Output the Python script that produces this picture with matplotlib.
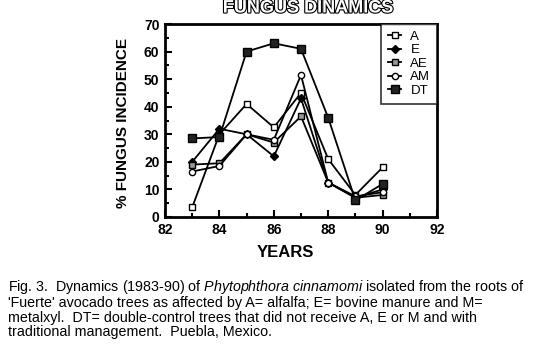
import matplotlib
matplotlib.use("Agg")
import matplotlib.pyplot as plt
import matplotlib.patheffects as pe
from matplotlib.ticker import MultipleLocator

years = [83, 84, 85, 86, 87, 88, 89, 90]
A = [3.5, 30, 41, 32.5, 45, 21, 8, 18]
E = [20, 32, 30, 22, 43, 12.5, 7, 10]
AE = [19, 19.5, 30, 27, 36.5, 12.5, 7, 8]
AM = [16.5, 18.5, 30, 28, 51.5, 12.5, 7.5, 9]
DT = [28.5, 29, 60, 63, 61, 36, 6, 12]

plt.rcParams['font.family'] = ['Liberation Sans', 'DejaVu Sans']
plt.rcParams['mathtext.fontset'] = 'custom'
plt.rcParams['mathtext.it'] = 'Liberation Sans:italic'
plt.rcParams['mathtext.rm'] = 'Liberation Sans'

W, H = 543, 361
fig = plt.figure(figsize=(W/100, H/100), dpi=100)
L, R, T, B = 165, 437, 24, 217
ax = fig.add_axes([L/W, 1-B/H, (R-L)/W, (B-T)/H])

lw = 1.3
ax.plot(years, A, color='black', lw=lw, marker='s', ms=5, mfc='white', mec='black', mew=1.0, label='A')
ax.plot(years, E, color='black', lw=lw, marker='D', ms=4, mfc='black', mec='black', label='E')
ax.plot(years, AE, color='black', lw=lw, marker='s', ms=5, mfc='#999999', mec='black', mew=1.0, label='AE')
ax.plot(years, AM, color='black', lw=lw, marker='o', ms=4.5, mfc='white', mec='black', mew=1.0, label='AM')
ax.plot(years, DT, color='black', lw=lw, marker='s', ms=5.5, mfc='#222222', mec='black', label='DT')

ax.set_xlim(82, 92)
ax.set_ylim(0, 70)
ax.xaxis.set_major_locator(MultipleLocator(2))
ax.xaxis.set_minor_locator(MultipleLocator(1))
ax.yaxis.set_major_locator(MultipleLocator(10))
ax.yaxis.set_minor_locator(MultipleLocator(5))
ax.tick_params(which='both', direction='in', width=1.5)
ax.tick_params(which='major', length=5, labelsize=10, pad=4)
ax.tick_params(which='minor', length=3)
for lab in ax.get_xticklabels() + ax.get_yticklabels():
    lab.set_fontweight('bold')
for s in ax.spines.values():
    s.set_linewidth(2)

ax.set_xlabel('YEARS', fontsize=12, fontweight='bold')
ax.xaxis.set_label_coords((285-L)/(R-L), -(245-B)/(B-T), transform=ax.transAxes)
ax.set_ylabel('% FUNGUS INCIDENCE', fontsize=11, fontweight='bold')
ax.yaxis.set_label_coords(-(L-130)/(R-L), 0.5 + ((B+T)/2 - 123)/(B-T), transform=ax.transAxes)

leg = ax.legend(loc='upper right', fontsize=9.5, handlelength=1.0, handletextpad=0.7,
                borderaxespad=0.0, labelspacing=0.1, frameon=True, fancybox=False,
                edgecolor='black', borderpad=0.5)
leg.get_frame().set_linewidth(1.2)

fig.text(308/W, 1-8/H, 'FUNGUS DINAMICS', ha='center', va='center', fontsize=13,
         fontweight='bold', color='white',
         path_effects=[pe.withStroke(linewidth=1.6, foreground='black')])

caption = ("Fig. 3.  Dynamics (1983-90) of $\\it{Phytophthora\\ cinnamomi}$ isolated from the roots of\n"
           "'Fuerte' avocado trees as affected by A= alfalfa; E= bovine manure and M=\n"
           "metalxyl.  DT= double-control trees that did not receive A, E or M and with\n"
           "traditional management.  Puebla, Mexico.")
fig.text(8/W, 1-278/H, caption, ha='left', va='top', fontsize=10.3, linespacing=1.03)

fig.savefig('out.png', dpi=100)
